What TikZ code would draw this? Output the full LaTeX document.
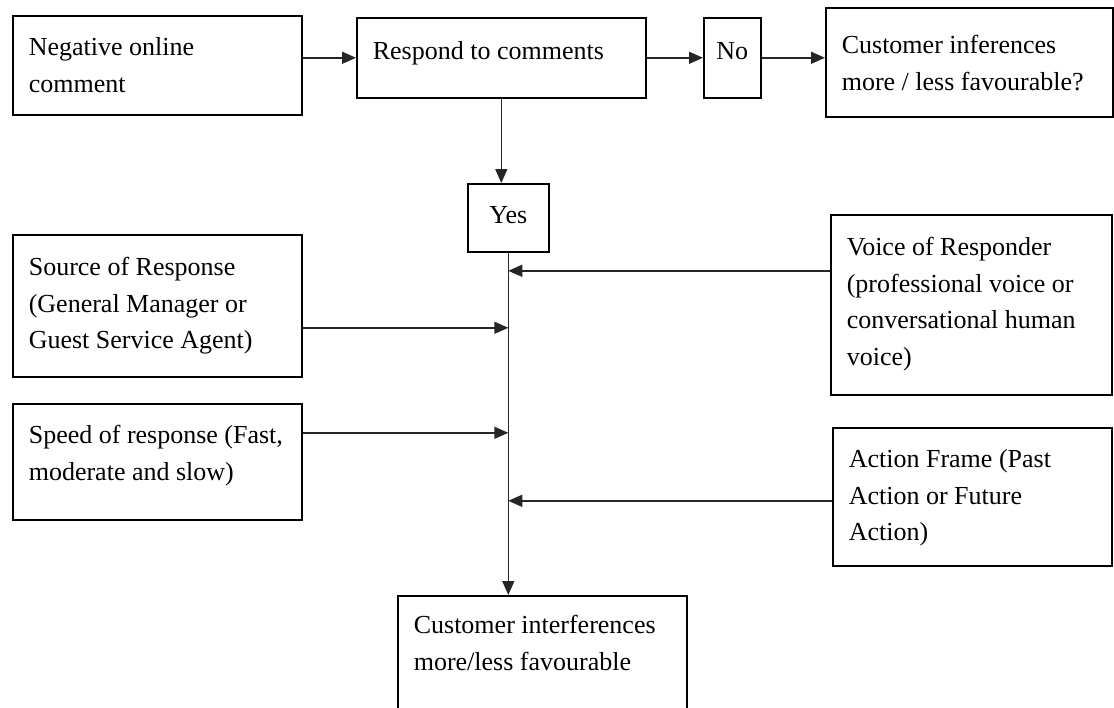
\documentclass[tikz,border=0pt]{standalone}
\usepackage{fontspec}
\setmainfont{Liberation Serif}
\usetikzlibrary{arrows.meta}
\tikzset{
  blk/.style={draw, line width=1.6pt, anchor=north west, align=flush left,
              inner xsep=16pt, inner ysep=0pt, text width=257pt,
              font=\fontsize{26}{36.5}\selectfont},
  sq/.style={blk, align=flush center, inner xsep=0pt},
  flow/.style={-{Triangle[length=14pt,width=12pt]}, line width=1.4pt, draw=black!85},
}

\begin{document}
\begin{tikzpicture}[x=1pt, y=-1pt]
\useasboundingbox (0,0) rectangle (1114,707);
\clip (0,0) rectangle (1114,707);

\node[blk, text height=40pt, text depth=59pt] (neg) at (12,15)
  {Negative online\\comment};
\node[blk, text height=42pt, text depth=38pt] (resp) at (356,17)
  {Respond to comments};
\node[sq, text width=57pt, text height=42pt, text depth=38pt] (no) at (703,17) {No};
\node[blk, text width=255pt, text height=46pt, text depth=63pt] (cust) at (825,7)
  {Customer inferences\\more / less favourable?};
\node[sq, text width=81pt, text height=40pt, text depth=28pt] (yes) at (467,183) {Yes};

\node[blk, text height=41pt, text depth=101pt] (src) at (12,234)
  {Source of Response\\(General Manager or\\Guest Service Agent)};
\node[blk, text height=40pt, text depth=76pt] (speed) at (12,403)
  {Speed of response (Fast,\\moderate and slow)};
\node[blk, text width=249pt, text height=41pt, text depth=139pt] (voice) at (830,214)
  {Voice of Responder\\(professional voice or\\conversational human\\voice)};
\node[blk, text width=247pt, text height=40pt, text depth=98pt] (act) at (832,427)
  {Action Frame (Past\\Action or Future\\Action)};
\node[blk, text height=38pt, text depth=127pt] (res) at (397,595)
  {Customer interferences\\more/less favourable};

\draw[flow] (neg.east |- resp.west) -- (resp.west);
\draw[flow] (resp.east) -- (no.west);
\draw[flow] (no.east) -- (no.east -| cust.west);
\draw[flow] (resp.south) -- (resp.south |- yes.north);
\draw[flow] (yes.south) -- (yes.south |- res.north);

\foreach \n/\a/\d in {voice/west/34, src/east/-22, speed/east/29, act/west/-4}
  \draw[flow] ([yshift=\d pt]\n.\a) -- ([yshift=\d pt]\n.\a -| yes.south);

\end{tikzpicture}
\end{document}
